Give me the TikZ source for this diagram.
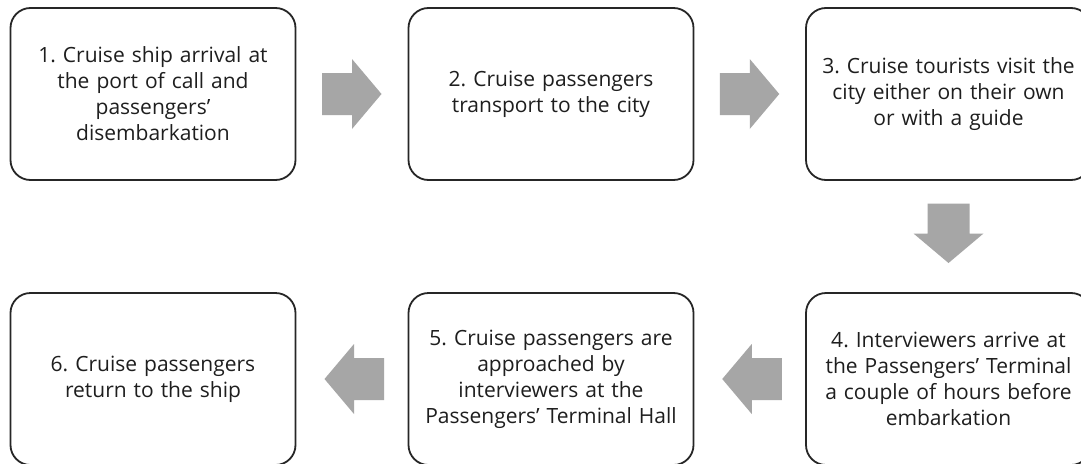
\documentclass[tikz,border=0pt]{standalone}
\usepackage{fontspec}
\setmainfont{Open Sans}
\usetikzlibrary{calc}
\definecolor{inkgray}{HTML}{1E1E1E}
\definecolor{linegray}{HTML}{262626}
\definecolor{arrowgray}{HTML}{A6A6A6}
\tikzset{
  stepbox/.style={draw=linegray, line width=1.8pt, rounded corners=20pt,
    minimum width=285pt, minimum height=172pt, text width=278pt,
    align=center, text=inkgray, inner sep=0pt,
    font=\fontsize{21pt}{26pt}\selectfont},
  pics/blockarrow/.style={code={
    \fill[arrowgray] (-30,-21) -- (0,-21) -- (0,-35) -- (29.5,0) -- (0,35)
      -- (0,21) -- (-30,21) -- cycle;}}
}
\frenchspacing
\begin{document}
\begin{tikzpicture}[x=1pt,y=-1pt]
  \clip (0,0) rectangle (1081,463);
  \fill[white] (0,0) rectangle (1081,463);
  % top row
  \node[stepbox] (s1) at (153,94)
    {1. Cruise ship arrival at\\the port of call and\\passengers’\\disembarkation};
  \node[stepbox] (s2) at (551,94)
    {2. Cruise passengers\\transport to the city};
  \node[stepbox] (s3) at (948.5,94)
    {3. Cruise tourists visit the\\city either on their own\\or with a guide};
  % bottom row
  \node[stepbox] (s4) at (948.5,379)
    {4. Interviewers arrive at\\the Passengers’ Terminal\\a couple of hours before\\embarkation};
  \node[stepbox] (s5) at (551,379)
    {5. Cruise passengers are\\approached by\\interviewers at the\\Passengers’ Terminal Hall};
  \node[stepbox] (s6) at (153,379)
    {6. Cruise passengers\\return to the ship};
  % block arrows between the steps
  \pic at ($(s1.east)!0.5!(s2.west)$) {blockarrow};
  \pic at ($(s2.east)!0.5!(s3.west)$) {blockarrow};
  \pic[rotate=-90] at ($(s3.south)!0.5!(s4.north)+(0,-3)$) {blockarrow};
  \pic[rotate=180] at ($(s4.west)!0.5!(s5.east)+(2,0)$) {blockarrow};
  \pic[rotate=180] at ($(s5.west)!0.5!(s6.east)+(2,0)$) {blockarrow};
\end{tikzpicture}
\end{document}
